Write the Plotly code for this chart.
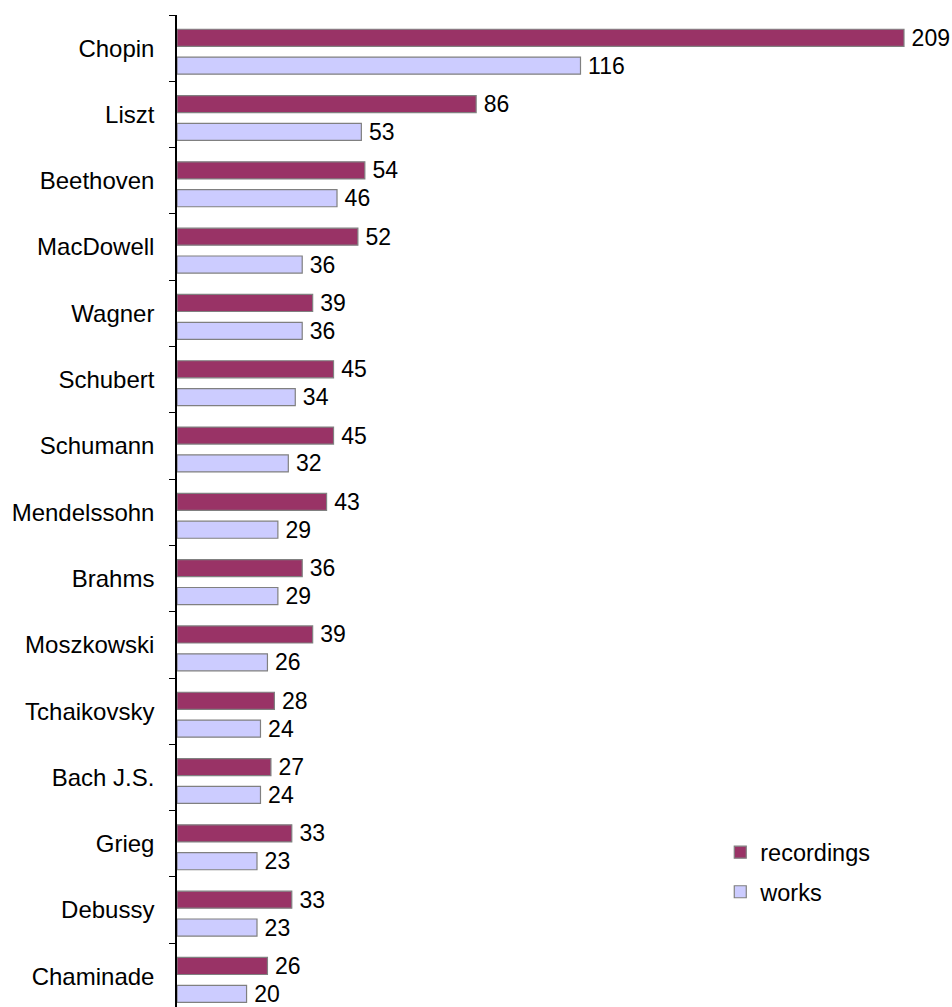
import plotly.graph_objects as go

composers = ["Chopin", "Liszt", "Beethoven", "MacDowell", "Wagner", "Schubert",
             "Schumann", "Mendelssohn", "Brahms", "Moszkowski", "Tchaikovsky",
             "Bach J.S.", "Grieg", "Debussy", "Chaminade"]
recordings = [209, 86, 54, 52, 39, 45, 45, 43, 36, 39, 28, 27, 33, 33, 26]
works = [116, 53, 46, 36, 36, 34, 32, 29, 29, 26, 24, 24, 23, 23, 20]

FONT = "Liberation Sans, Arial, sans-serif"
BAR_W = 0.257

fig = go.Figure()
fig.add_trace(go.Bar(
    name="recordings", y=composers, x=recordings, orientation="h",
    width=BAR_W, offset=-0.285,
    marker=dict(color="#993366", line=dict(color="#808080", width=1.2)),
    text=recordings, texttemplate="\u2009%{x}", textposition="outside",
    textfont=dict(size=23, color="black", family=FONT),
    constraintext="none", cliponaxis=False, legendgroup="r",
))
fig.add_trace(go.Bar(
    name="works", y=composers, x=works, orientation="h",
    width=BAR_W, offset=0.135,
    marker=dict(color="#CCCCFF", line=dict(color="#808080", width=1.2)),
    text=works, texttemplate="\u2009%{x}", textposition="outside",
    textfont=dict(size=23, color="black", family=FONT),
    constraintext="none", cliponaxis=False, legendgroup="w",
))

fig.update_layout(
    width=952, height=1007,
    margin=dict(l=177, r=0, t=15, b=0),
    barmode="overlay",
    paper_bgcolor="white", plot_bgcolor="white",
    font=dict(family=FONT, size=23, color="black"),
    showlegend=True,
    legend=dict(x=0.701, y=0.178, xanchor="left", yanchor="top",
                bgcolor="rgba(0,0,0,0)", tracegroupgap=6,
                font=dict(size=23.5, family=FONT)),
)
fig.update_xaxes(visible=False, range=[0, 222.8], fixedrange=True)
fig.update_yaxes(
    type="category", categoryorder="array", categoryarray=composers,
    range=[14.462, -0.5], tickson="boundaries",
    ticks="outside", ticklen=6, tickcolor="black", tickwidth=1,
    showline=True, linecolor="black", linewidth=1.5,
    showgrid=False, zeroline=False, ticklabelstandoff=16,
    tickfont=dict(size=24, family=FONT, color="black"),
)

fig.write_html("out.html")
